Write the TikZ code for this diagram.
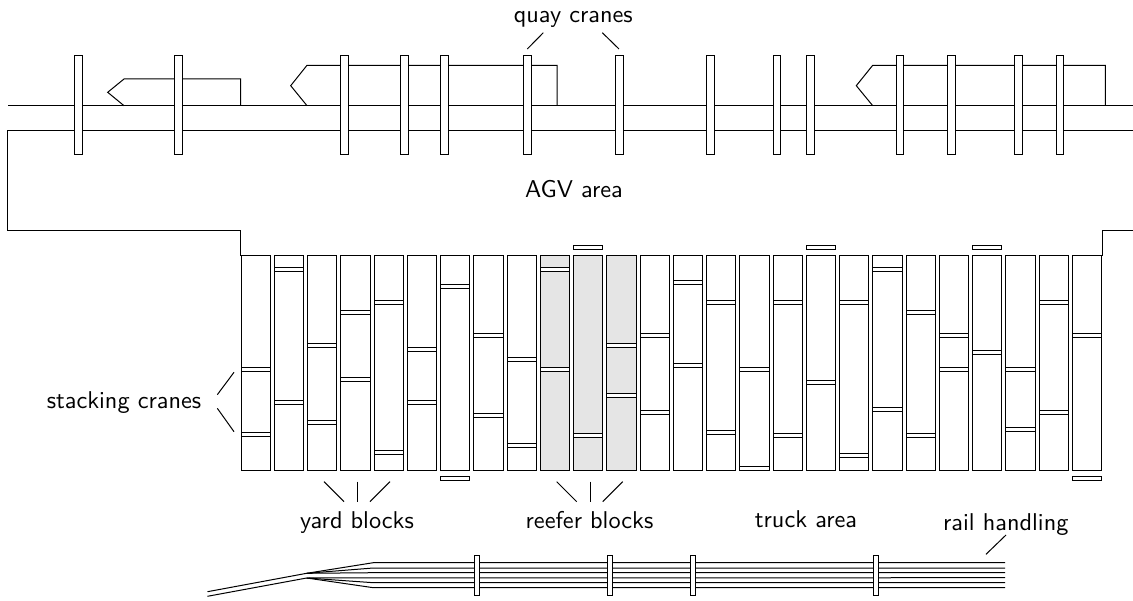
\documentclass[tikz,border=0pt]{standalone}
\tikzset{
  every path/.style={line width=1pt},
  blockbox/.style={draw=black,fill=white},
  reefer/.style={draw=black,fill=black!10},
  cranebox/.style={draw=black,fill=white},
  lab/.style={font=\sffamily,scale=2.43,transform shape,inner sep=0pt,anchor=base},
  leader/.style={draw=black}
}
\begin{document}
\begin{tikzpicture}[x=1pt,y=-1pt]
\useasboundingbox (0,0) rectangle (1133,601);
% ships
\draw (124,105.7) -- (107.7,92.3) -- (124,79) -- (240.7,79) -- (240.7,105.7);
\draw (307,105.7) -- (290.7,85.7) -- (307,65.3) -- (557,65.3) -- (557,105.7);
\draw (872.7,105.7) -- (856.3,85.7) -- (872.7,65.3) -- (1105.3,65.3) -- (1105.3,105.7);
% quay
\draw (8,105.7) -- (1133,105.7);
\draw (1133,130.3) -- (7.7,130.3) -- (7.7,230.3) -- (240.7,230.3) -- (240.7,255.7);
\draw (1102,255.7) -- (1102,230.3) -- (1133,230.3);
% quay cranes
\foreach \c [count=\i] in {78.3,178.3,344.7,404.7,444.5,527.5,619.5,710.7,777,810.3,900,951.7,1018.3,1060}
  \node[cranebox,minimum width=7.7pt,minimum height=99pt,inner sep=0pt,outer sep=0pt] (qc\i) at (\c,105.5) {};
% blocks
\foreach \i in {0,...,25} {
  \pgfmathsetmacro{\xl}{241+33.25*\i}
  \pgfmathtruncatemacro{\isr}{(\i>=9 && \i<=11) ? 1 : 0}
  \ifnum\isr=1
    \draw[reefer] (\xl,255.7) rectangle ++(29.3,215.3);
  \else
    \draw[blockbox] (\xl,255.7) rectangle ++(29.3,215.3);
  \fi
}
% stacking cranes
\foreach \i/\y in {0/369.3,0/434.3,1/269.3,1/402.7,2/346,2/422.7,3/312.7,3/379.3,4/302.7,4/452.3,5/349.3,5/402.7,6/286.3,7/336,7/415.7,8/359.3,8/446,9/269.3,9/369.3,10/435.7,11/346,11/396,12/336,12/412.7,13/282.7,13/366,14/302.7,14/432.3,15/369.3,15/469,16/302.7,16/435.7,17/382.7,18/302.7,18/455.7,19/269.3,19/409.3,20/312.7,20/436,21/336,21/369.3,22/352.7,23/369.3,23/429.3,24/302.7,24/412.3,25/336} {
  \pgfmathsetmacro{\xl}{241+33.25*\i}
  \draw[cranebox] (\xl,\y-2) rectangle ++(29.3,4);
}
% parked cranes
\foreach \i/\y in {6/479,10/247.7,17/247.7,22/247.7,25/479} {
  \pgfmathsetmacro{\xl}{241+33.25*\i}
  \draw[cranebox] (\xl,\y-2) rectangle ++(29.3,4);
}
% rails
\draw (207.5,591.7) -- (306.7,573.3) -- (373.3,562.7) -- (1005,562.7);
\draw (306.7,573.3) -- (373.3,568) -- (1005,568);
\draw (306.7,573.3) -- (373.3,572.7) -- (1005,572.7);
\draw (207.5,596.3) -- (306.7,578) -- (1005,577.7);
\draw (306.7,578) -- (373.3,582.7) -- (1005,582.7);
\draw (306.7,578) -- (373.3,587.7) -- (1005,587.7);
\foreach \c [count=\i] in {477,610,693,876}
  \node[draw,fill=white,minimum width=5.7pt,minimum height=40.7pt,inner sep=0pt,outer sep=0pt] (rc\i) at (\c,575.4) {};
% labels
\node[lab] (tq) at (573.3,22.5) {quay cranes};
\node[lab] (tagv) at (574,197.5) {AGV area};
\node[lab] (ts) at (124,409) {stacking cranes};
\node[lab] (ty) at (357,528.5) {yard blocks};
\node[lab] (tr) at (589.5,528.5) {reefer blocks};
\node[lab] (tt) at (806,527.5) {truck area};
\node[lab] (th) at (1005.8,530) {rail handling};
% leaders
\foreach \n/\ax/\ay/\bx/\by in {
  a/527.3/49/543.3/32.7, b/619/49/602.3/32.7,
  c/234/372.3/217.3/394.7, d/234/431.7/217.3/408.3,
  e/324/481.7/344/501.7, f/357/481.7/357/501.7, g/390/481.7/370/501.7,
  h/556.7/481.7/576.7/501.7, i/590/481.7/590/501.7, j/622.7/481.7/602.7/501.7,
  k/986/554.3/1006/535} {
  \coordinate (\n1) at (\ax,\ay);
  \coordinate (\n2) at (\bx,\by);
  \draw[leader] (\n1) -- (\n2);
}
\end{tikzpicture}
\end{document}
